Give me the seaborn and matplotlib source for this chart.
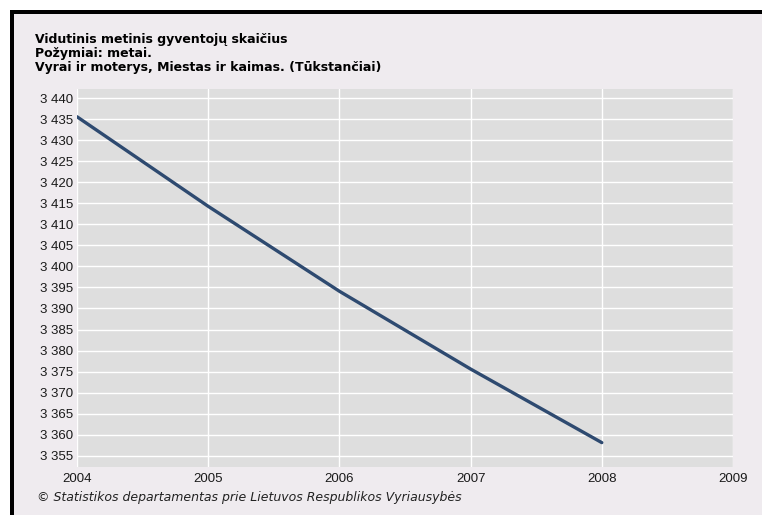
import pandas as pd
import matplotlib.pyplot as plt
import seaborn as sns
from matplotlib.patches import Rectangle

# Duomenys (tukstanciai)
metai = [2004, 2005, 2006, 2007, 2008]
gyventojai = [3435.6, 3414.3, 3394.1, 3375.6, 3358.1]
y_ticks = list(range(3355, 3445, 5))
x_ticks = [2004, 2005, 2006, 2007, 2008, 2009]

data = pd.DataFrame({'metai': metai, 'gyventojai': gyventojai})

sns.set_theme(style='whitegrid')
plt.rcParams['font.family'] = ['Liberation Sans', 'DejaVu Sans']

W, H = 762, 515
fig = plt.figure(figsize=(W / 100, H / 100), dpi=100)
fig.patch.set_facecolor('white')

# fonas ir juodas remelis
bg = '#efebef'
fig.patches.append(Rectangle((14 / W, 0), 1 - 14 / W, 1 - 14 / H, transform=fig.transFigure,
                             facecolor=bg, edgecolor='none', zorder=-10))
fig.patches.append(Rectangle((10 / W, 0), 4 / W, 1 - 10 / H, transform=fig.transFigure,
                             facecolor='black', edgecolor='none', zorder=-9))
fig.patches.append(Rectangle((10 / W, 1 - 14 / H), 1 - 10 / W, 4 / H, transform=fig.transFigure,
                             facecolor='black', edgecolor='none', zorder=-9))

ax = fig.add_axes([77 / W, 1 - 467 / H, (733 - 77) / W, (467 - 89) / H])
ax.set_facecolor('#dedede')
sns.lineplot(x='metai', y='gyventojai', data=data, color='#2e4a70', linewidth=2.4, ax=ax)

ax.set_xlim(2004, 2009)
ax.set_ylim(3352.3, 3442.2)
ax.set_xticks(x_ticks)
ax.set_yticks(y_ticks)
ax.set_yticklabels([f'{v:,}'.replace(',', ' ') for v in y_ticks])
ax.grid(True, color='white', linewidth=1.0)
for s in ax.spines.values():
    s.set_visible(False)
ax.tick_params(axis='both', length=0, labelsize=9.5, colors='#1a1a1a')
ax.tick_params(axis='y', pad=3)
ax.tick_params(axis='x', pad=4)
ax.set_xlabel('')
ax.set_ylabel('')

# antraste
antraste = ['Vidutinis metinis gyventojų skaičius',
            'Požymiai: metai.',
            'Vyrai ir moterys, Miestas ir kaimas. (Tūkstančiai)']
for i, t in enumerate(antraste):
    fig.text(35 / W, 1 - (40 + i * 14) / H, t, fontsize=9, fontweight='bold',
             family=['DejaVu Sans'], va='center', ha='left', color='black')

fig.text(37 / W, 1 - 497 / H, '© Statistikos departamentas prie Lietuvos Respublikos Vyriausybės',
         fontsize=9, style='italic', family=['DejaVu Sans'], va='center', ha='left',
         color='#222222')

fig.savefig('out.png', dpi=100)
